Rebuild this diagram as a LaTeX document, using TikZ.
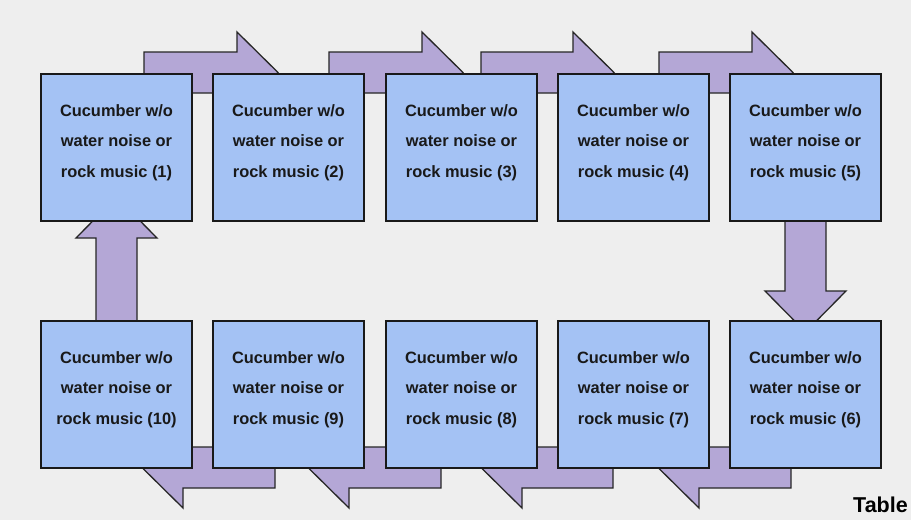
\documentclass[tikz,border=0pt]{standalone}
\usepackage{fontspec}
\setmainfont{Liberation Sans}
\usetikzlibrary{calc}

\definecolor{pagebg}{HTML}{EEEEEE}
\definecolor{cellfill}{HTML}{A4C2F4}
\definecolor{flowfill}{HTML}{B4A7D6}

\pgfdeclarelayer{bg}
\pgfdeclarelayer{flow}
\pgfsetlayers{bg,flow,main}

\tikzset{
  cell/.style={draw=black!90, line width=2pt, fill=cellfill,
    minimum width=151pt, minimum height=147pt, inner sep=0pt},
  celltext/.style={font=\bfseries\fontsize{16.4}{30.5}\selectfont,
    align=center, text=black!90, inner sep=0pt},
  flowarrow/.style={draw=black!85, line width=1.3pt, fill=flowfill, line join=miter},
  % block arrow starting at the origin, pointing along +x, total length #1
  pics/blockarrow/.style={code={
    \draw[flowarrow] (0,-20.5) -- (#1-41,-20.5) -- (#1-41,-40.5) -- (#1,0)
      -- (#1-41,40.5) -- (#1-41,20.5) -- (0,20.5) -- cycle;}}
}

\newcommand\cellnode[4]{%
  \node[cell, label={[celltext, yshift=5pt]center:{Cucumber w/o\\water noise or\\rock music (#4)}}]
    (#1) at (#2,#3) {};}

\begin{document}
\begin{tikzpicture}[x=1pt, y=-1pt]
  \useasboundingbox (0,0) rectangle (911,520);
  \begin{pgfonlayer}{bg}
    \fill[pagebg] (0,0) rectangle (911,520);
  \end{pgfonlayer}

  % top row, left to right
  \cellnode{b1}{116.5}{147.5}{1}
  \cellnode{b2}{288.5}{147.5}{2}
  \cellnode{b3}{461.5}{147.5}{3}
  \cellnode{b4}{633.5}{147.5}{4}
  \cellnode{b5}{805.5}{147.5}{5}
  % bottom row, right to left
  \cellnode{b6}{805.5}{394.5}{6}
  \cellnode{b7}{633.5}{394.5}{7}
  \cellnode{b8}{461.5}{394.5}{8}
  \cellnode{b9}{288.5}{394.5}{9}
  \cellnode{b10}{116.5}{394.5}{10}

  \begin{pgfonlayer}{flow}
    % rightward arrows along the top edge
    \pic at ($(b1.north east)+(-49,-0.5)$) {blockarrow=134};
    \pic at ($(b2.north east)+(-36,-0.5)$) {blockarrow=134};
    \pic at ($(b3.north east)+(-57,-0.5)$) {blockarrow=133};
    \pic at ($(b4.north east)+(-51,-0.5)$) {blockarrow=134};
    % down from 5 to 6
    \pic[rotate=-90] at ($(b5.south)+(0,-21)$) {blockarrow=131};
    % leftward arrows along the bottom edge
    \pic[rotate=180] at ($(b6.south west)+(62,-1.5)$) {blockarrow=133};
    \pic[rotate=180] at ($(b7.south west)+(56,-1.5)$) {blockarrow=132};
    \pic[rotate=180] at ($(b8.south west)+(56,-1.5)$) {blockarrow=133};
    \pic[rotate=180] at ($(b9.south west)+(63,-1.5)$) {blockarrow=133};
    % up from 10 to 1
    \pic[rotate=90] at ($(b10.north)+(0,19)$) {blockarrow=142};
  \end{pgfonlayer}

  \node[font=\bfseries\fontsize{21.5}{26}\selectfont, anchor=base east, inner sep=0pt]
    (tablelabel) at (908,512) {Table};
\end{tikzpicture}
\end{document}
